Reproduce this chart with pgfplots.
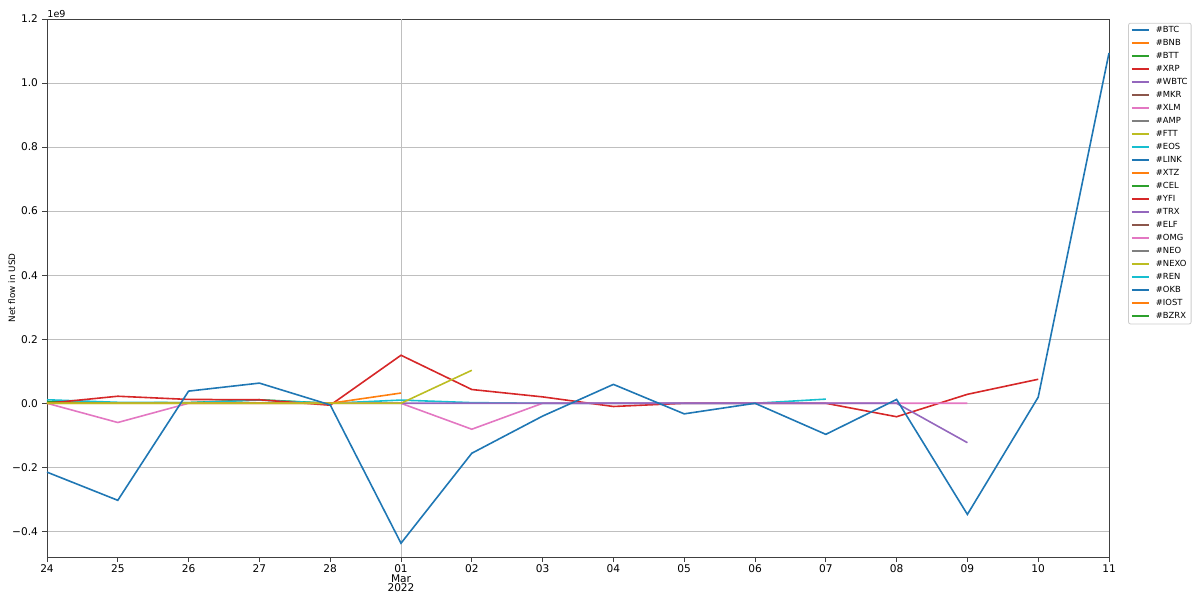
\documentclass[border=0pt]{standalone}
\usepackage{pgfplots}
\pgfplotsset{compat=1.18}
\usepackage{fontspec}
\setmainfont{DejaVu Sans}
\definecolor{tblue}{HTML}{1F77B4}
\definecolor{torange}{HTML}{FF7F0E}
\definecolor{tgreen}{HTML}{2CA02C}
\definecolor{tred}{HTML}{D62728}
\definecolor{tpurple}{HTML}{9467BD}
\definecolor{tbrown}{HTML}{8C564B}
\definecolor{tpink}{HTML}{E377C2}
\definecolor{tgray}{HTML}{7F7F7F}
\definecolor{tolive}{HTML}{BCBD22}
\definecolor{tcyan}{HTML}{17BECF}
\begin{document}
\begin{tikzpicture}
\begin{axis}[name=ax,scale only axis,width=531pt,height=269pt,
	xmin=0,xmax=15,ymin=-0.48,ymax=1.2,
	font=\fontsize{5.3}{4.8}\selectfont,
	axis line style={black!75,line width=0.45pt},
	tick style={black!75,line width=0.45pt},
	tick align=outside,major tick length=2.5pt,
	xtick pos=lower,ytick pos=left,
	xtick={0,...,15},
	xticklabels={24,25,26,27,28,{01\\Mar\\2022},02,03,04,05,06,07,08,09,10,11},
	xticklabel style={align=center,yshift=2.2pt},
	yticklabel style={xshift=1.5pt},
	extra x ticks={5},extra x tick labels={},
	extra x tick style={grid=major,major tick length=0pt},
	ytick={-0.4,-0.2,0,0.2,0.4,0.6,0.8,1.0,1.2},
	yticklabels={−0.4,−0.2,0.0,0.2,0.4,0.6,0.8,1.0,1.2},
	ymajorgrids,
	grid style={black!25,line width=0.4pt},
	ylabel={Net flow in USD},
	ylabel style={at={(axis description cs:-0.033,0.5)},anchor=center,
		font=\fontsize{4.4}{5}\selectfont},
	every axis plot/.append style={line width=0.8pt},
	legend style={at={(1.018,0.993)},anchor=north west,draw=black!20,rounded corners=1pt,
		font=\fontsize{4.2}{4.5}\selectfont,row sep=1.5pt,inner sep=1.2pt,
		nodes={inner sep=0.6pt,text height=2.9pt,text depth=0.9pt},
		/tikz/every odd column/.append style={column sep=2.5pt}},
	legend cell align=left,
	legend image code/.code={\draw[#1,line width=0.9pt] (0pt,0.25pt) -- (8.5pt,0.25pt);},
	clip=false]
% legend entries in listed order
\addlegendimage{tblue}\addlegendentry{\#BTC}
\addlegendimage{torange}\addlegendentry{\#BNB}
\addlegendimage{tgreen}\addlegendentry{\#BTT}
\addlegendimage{tred}\addlegendentry{\#XRP}
\addlegendimage{tpurple}\addlegendentry{\#WBTC}
\addlegendimage{tbrown}\addlegendentry{\#MKR}
\addlegendimage{tpink}\addlegendentry{\#XLM}
\addlegendimage{tgray}\addlegendentry{\#AMP}
\addlegendimage{tolive}\addlegendentry{\#FTT}
\addlegendimage{tcyan}\addlegendentry{\#EOS}
\addlegendimage{tblue}\addlegendentry{\#LINK}
\addlegendimage{torange}\addlegendentry{\#XTZ}
\addlegendimage{tgreen}\addlegendentry{\#CEL}
\addlegendimage{tred}\addlegendentry{\#YFI}
\addlegendimage{tpurple}\addlegendentry{\#TRX}
\addlegendimage{tbrown}\addlegendentry{\#ELF}
\addlegendimage{tpink}\addlegendentry{\#OMG}
\addlegendimage{tgray}\addlegendentry{\#NEO}
\addlegendimage{tolive}\addlegendentry{\#NEXO}
\addlegendimage{tcyan}\addlegendentry{\#REN}
\addlegendimage{tblue}\addlegendentry{\#OKB}
\addlegendimage{torange}\addlegendentry{\#IOST}
\addlegendimage{tgreen}\addlegendentry{\#BZRX}
% series
\addplot[tgray,forget plot] coordinates {(0,0) (1,0) (2,0) (3,0) (4,0) (5,0)};
\addplot[tbrown,forget plot] coordinates {(0,0) (1,0) (2,0) (3,0) (4,0)};
\addplot[tgreen,forget plot] coordinates {(0,0.005) (1,0.001) (2,0.002) (3,0.011) (4,0)};
\addplot[tcyan,forget plot] coordinates {(0,0.011) (1,0.003) (2,0.002) (3,0.01) (4,0) (5,0.01)
	(6,0.002) (7,0) (8,0) (9,0) (10,0) (11,0.013)};
\addplot[tred,forget plot] coordinates {(0,0) (1,0.022) (2,0.012) (3,0.011) (4,-0.006) (5,0.15)
	(6,0.043) (7,0.02) (8,-0.01) (9,0) (10,0) (11,0) (12,-0.042) (13,0.028) (14,0.075)};
\addplot[tpink,forget plot] coordinates {(0,0) (1,-0.06) (2,0) (3,0) (4,0) (5,0)
	(6,-0.081) (7,0) (8,0) (9,0) (10,0) (11,0) (12,0) (13,0)};
\addplot[tpurple,forget plot] coordinates {(5,0) (6,0) (7,0) (8,0) (9,0) (10,0) (11,0)
	(12,0) (13,-0.123)};
\addplot[torange,forget plot] coordinates {(0,0) (1,0) (2,0) (3,0) (4,0) (5,0.032)};
\addplot[tolive,forget plot] coordinates {(0,0) (1,0) (2,0) (3,0) (4,0) (5,0) (6,0.103)};
\addplot[tblue,forget plot] coordinates {(0,-0.215) (1,-0.303) (2,0.038) (3,0.063) (4,-0.005)
	(5,-0.437) (6,-0.156) (7,-0.04) (8,0.059) (9,-0.033) (10,0) (11,-0.097) (12,0.012)
	(13,-0.347) (14,0.019) (15,1.094)};
\node[anchor=south west,inner sep=0pt,yshift=0.6pt,font=\fontsize{4.8}{5}\selectfont] at (rel axis cs:0,1) {1e9};
\end{axis}
\path ([shift={(-23.5pt,-21.5pt)}]ax.south west) rectangle ([shift={(45.5pt,9.5pt)}]ax.north east);
\end{tikzpicture}
\end{document}
